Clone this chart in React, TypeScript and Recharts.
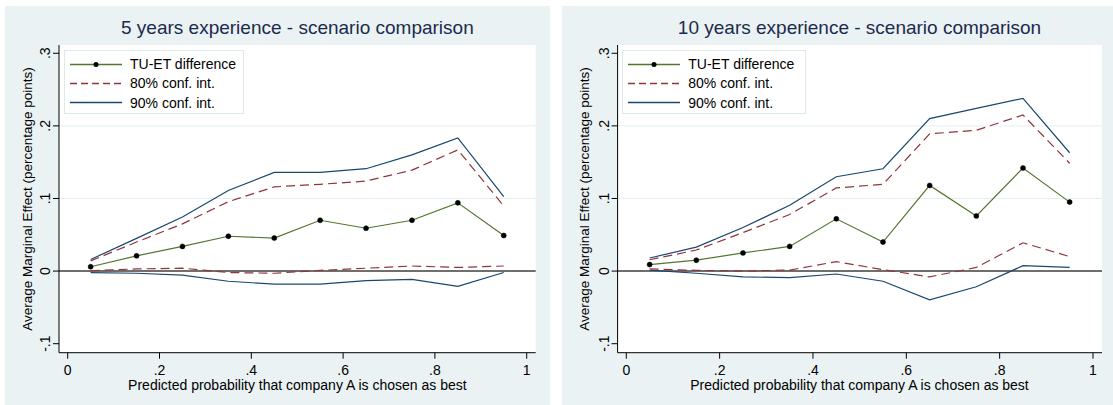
import React from "react"
import { LineChart, Line, XAxis, YAxis, CartesianGrid, ReferenceLine } from "recharts"

// predicted probability bins (midpoints)
const probBins = [0.05, 0.15, 0.25, 0.35, 0.45, 0.55, 0.65, 0.75, 0.85, 0.95]

// 5 years experience
const diff5 = [0.006, 0.021, 0.034, 0.048, 0.0455, 0.07, 0.059, 0.07, 0.094, 0.049]
const hi80_5 = [0.014, 0.04, 0.065, 0.0956, 0.116, 0.1195, 0.124, 0.139, 0.167, 0.0897]
const lo80_5 = [0.0005, 0.003, 0.004, -0.002, -0.003, 0.001, 0.004, 0.007, 0.005, 0.007]
const hi90_5 = [0.016, 0.045, 0.0745, 0.111, 0.136, 0.136, 0.141, 0.16, 0.1835, 0.1025]
const lo90_5 = [-0.002, -0.003, -0.0055, -0.014, -0.018, -0.018, -0.013, -0.0115, -0.021, -0.002]

// 10 years experience
const diff10 = [0.009, 0.015, 0.025, 0.034, 0.072, 0.04, 0.118, 0.076, 0.142, 0.095]
const hi80_10 = [0.0156, 0.029, 0.053, 0.078, 0.1145, 0.1195, 0.189, 0.194, 0.215, 0.1485]
const lo80_10 = [0.003, 0.001, 0, 0.0014, 0.013, 0.002, -0.008, 0.005, 0.039, 0.02]
const hi90_10 = [0.018, 0.033, 0.06, 0.0906, 0.13, 0.141, 0.21, 0.224, 0.238, 0.163]
const lo90_10 = [0.0014, -0.003, -0.008, -0.009, -0.004, -0.014, -0.0395, -0.0216, 0.0074, 0.005]

const xTicks = [0, 0.2, 0.4, 0.6, 0.8, 1]
const yTicks = [-0.1, 0, 0.1, 0.2, 0.3]
const gridTicks = [0.1, 0.2]

const legendItems = ["TU-ET difference", "80% conf. int.", "90% conf. int."]

const FONT = '"Liberation Sans", Arial, Helvetica, sans-serif'
const GREEN = "#55752f"
const MAROON = "#90353b"
const NAVY = "#1a476f"
const PANEL_BG = "#eaf2f3"

// stata style tick labels: .2, -.1, 0, 1
const fmt = (v: number) => String(Math.round(v * 10) / 10).replace(/^(-?)0\./, "$1.")

const YTick = (props: any) => {
  const { x, y, payload } = props
  return (
    <text x={x} y={y} transform={`rotate(-90 ${x} ${y})`} textAnchor="middle" fontSize={14} fill="#000" fontFamily={FONT}>
      {fmt(payload.value)}
    </text>
  )
}

const LegendBox = ({ left, width }: { left: number; width: number }) => (
  <div
    style={{
      position: "absolute",
      left,
      top: 44,
      width,
      height: 64,
      background: "#fff",
      border: "1px solid #dde8ea",
      boxSizing: "border-box",
    }}
  >
    {legendItems.map((name, i) => (
      <div key={name} style={{ position: "absolute", left: 4, top: 3.5 + i * 19.3, height: 19, display: "flex", alignItems: "center" }}>
        <svg width={54} height={19}>
          {i === 0 && (
            <>
              <line x1={1} y1={9.5} x2={53} y2={9.5} stroke={GREEN} strokeWidth={1.3} />
              <circle cx={27} cy={9.5} r={2.5} fill="#000" />
            </>
          )}
          {i === 1 && <line x1={1} y1={9.5} x2={53} y2={9.5} stroke={MAROON} strokeWidth={1.3} strokeDasharray="7 4" />}
          {i === 2 && <line x1={1} y1={9.5} x2={53} y2={9.5} stroke={NAVY} strokeWidth={1.3} />}
        </svg>
        <span style={{ marginLeft: 7, fontSize: 14, fontFamily: FONT, color: "#000", whiteSpace: "nowrap" }}>{name}</span>
      </div>
    ))}
  </div>
)

type PanelProps = {
  title: string
  left: number
  width: number
  axisW: number
  plotW: number
  legendW: number
  xDomain: [number, number]
  diff: number[]
  hi80: number[]
  lo80: number[]
  hi90: number[]
  lo90: number[]
}

function Panel({ title, left, width, axisW, plotW, legendW, xDomain, diff, hi80, lo80, hi90, lo90 }: PanelProps) {
  const height = 399
  const top = 39
  const xAxisH = 52.3
  const right = width - axisW - plotW
  const rows = probBins.map((p, i) => ({ p, diff: diff[i], hi80: hi80[i], lo80: lo80[i], hi90: hi90[i], lo90: lo90[i] }))
  const cx = axisW + plotW / 2

  return (
    <div style={{ position: "absolute", left, top: 6, width, height, background: PANEL_BG, fontFamily: FONT }}>
      <LineChart width={width} height={height} data={rows} margin={{ top, right, bottom: 0, left: 0 }}>
        <CartesianGrid fill="#ffffff" horizontal={false} vertical={false} stroke="none" />
        <XAxis
          type="number"
          dataKey="p"
          domain={xDomain}
          ticks={xTicks}
          allowDataOverflow
          tickFormatter={fmt}
          height={xAxisH}
          tickSize={6}
          tickMargin={6}
          axisLine={{ stroke: "#000" }}
          tickLine={{ stroke: "#000" }}
          tick={{ fontSize: 14, fill: "#000", fontFamily: FONT }}
        />
        <YAxis
          type="number"
          domain={[-0.1124, 0.3114]}
          ticks={yTicks}
          allowDataOverflow
          width={axisW}
          tickSize={6}
          tickMargin={3}
          axisLine={{ stroke: "#000" }}
          tickLine={{ stroke: "#000" }}
          tick={<YTick />}
        />
        {gridTicks.map((g) => (
          <ReferenceLine key={g} y={g} stroke="#e4eef0" strokeWidth={1} />
        ))}
        <ReferenceLine y={0} stroke="#6f6f6f" strokeWidth={2} />
        <Line type="linear" dataKey="hi90" stroke={NAVY} strokeWidth={1.2} dot={false} activeDot={false} isAnimationActive={false} />
        <Line type="linear" dataKey="lo90" stroke={NAVY} strokeWidth={1.2} dot={false} activeDot={false} isAnimationActive={false} />
        <Line type="linear" dataKey="hi80" stroke={MAROON} strokeWidth={1.2} strokeDasharray="9 5" dot={false} activeDot={false} isAnimationActive={false} />
        <Line type="linear" dataKey="lo80" stroke={MAROON} strokeWidth={1.2} strokeDasharray="9 5" dot={false} activeDot={false} isAnimationActive={false} />
        <Line
          type="linear"
          dataKey="diff"
          stroke={GREEN}
          strokeWidth={1.2}
          dot={{ r: 2.5, fill: "#000", stroke: "#000", strokeWidth: 0.5 }}
          activeDot={false}
          isAnimationActive={false}
        />
      </LineChart>
      <LegendBox left={axisW + 5} width={legendW} />
      <div style={{ position: "absolute", left: cx - 300, width: 600, top: 11, textAlign: "center", fontSize: 19, color: "#1c2a4e", whiteSpace: "nowrap" }}>
        {title}
      </div>
      <div style={{ position: "absolute", left: cx - 300, width: 600, top: 371, textAlign: "center", fontSize: 14, color: "#000", whiteSpace: "nowrap" }}>
        Predicted probability that company A is chosen as best
      </div>
      <div
        style={{
          position: "absolute",
          left: 23 - 200,
          top: 193 - 9,
          width: 400,
          height: 18,
          lineHeight: "18px",
          textAlign: "center",
          fontSize: 13.5,
          color: "#000",
          whiteSpace: "nowrap",
          transform: "rotate(-90deg)",
        }}
      >
        Average Marginal Effect (percentage points)
      </div>
    </div>
  )
}

export default function App() {
  return (
    <div style={{ position: "absolute", left: 0, top: 0, width: 1113, height: 405, background: "#fff", overflow: "hidden" }}>
      <Panel
        title="5 years experience - scenario comparison"
        left={5}
        width={545}
        axisW={54}
        plotW={476.7}
        legendW={180}
        xDomain={[-0.01895, 1.0196]}
        diff={diff5}
        hi80={hi80_5}
        lo80={lo80_5}
        hi90={hi90_5}
        lo90={lo90_5}
      />
      <Panel
        title="10 years experience - scenario comparison"
        left={561.7}
        width={551.3}
        axisW={55.6}
        plotW={484.4}
        legendW={184}
        xDomain={[-0.01864, 1.0193]}
        diff={diff10}
        hi80={hi80_10}
        lo80={lo80_10}
        hi90={hi90_10}
        lo90={lo90_10}
      />
    </div>
  )
}
